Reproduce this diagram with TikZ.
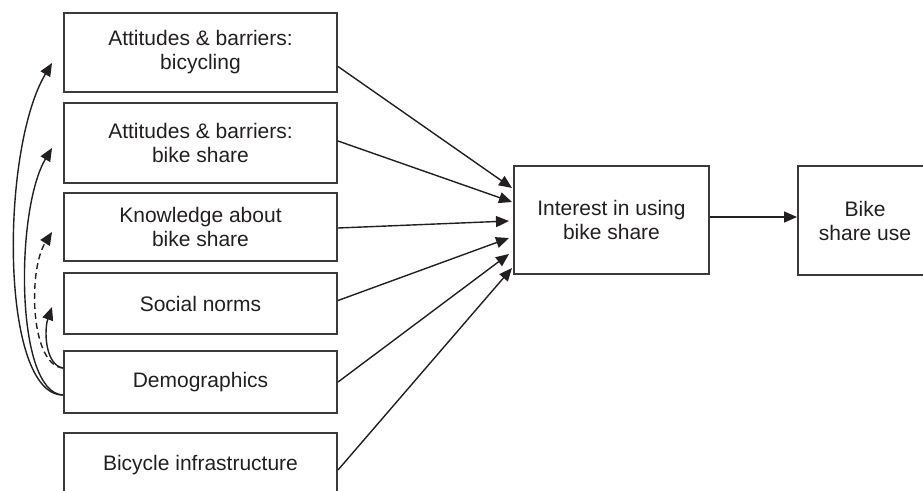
\documentclass[tikz,border=0pt]{standalone}
\usepackage{fontspec}
\setmainfont{Liberation Sans}
\usetikzlibrary{arrows.meta,calc}
\definecolor{ink}{HTML}{231F20}
\definecolor{boxline}{HTML}{3A3A3A}
\begin{document}
\begin{tikzpicture}[x=1pt,y=-1pt,
  box/.style={draw=boxline,line width=2pt,align=center,inner sep=0pt,
    font=\fontsize{21}{24}\selectfont,text=ink},
  arr/.style={draw=ink,line width=1.4pt,-{Triangle[length=13pt,width=11pt]}},
  darr/.style={arr,dash pattern=on 6pt off 4pt}]
\useasboundingbox (0,0) rectangle (923,490);
\clip (0,0) rectangle (923,490);
\node[box,minimum width=273pt,minimum height=79pt] (b1) at (200.5,52.5) {Attitudes \& barriers:\\bicycling};
\node[box,minimum width=273pt,minimum height=80pt] (b2) at (200.5,143) {Attitudes \& barriers:\\bike share};
\node[box,minimum width=273pt,minimum height=68pt] (b3) at (200.5,227) {Knowledge about\\bike share};
\node[box,minimum width=273pt,minimum height=61pt] (b4) at (200.5,303.5) {Social norms};
\node[box,minimum width=273pt,minimum height=62pt] (b5) at (200.5,382) {Demographics};
\node[box,minimum width=273pt,minimum height=64pt] (b6) at (200.5,465) {Bicycle infrastructure};
\node[box,minimum width=195pt,minimum height=108pt] (int) at (611.5,220) {Interest in using\\bike share};
\node[box,minimum width=134pt,minimum height=109pt] (use) at (865,220.5) {Bike\\share use};

\draw[arr] ($(b1.east)+(0,14)$) -- ($(int.west)+(-1,-32)$);
\draw[arr] ($(b2.east)+(0,-2)$) -- ($(int.west)+(-1,-18)$);
\draw[arr] ($(b3.east)+(0,1)$) -- ($(int.west)+(-4,1)$);
\draw[arr] ($(b4.east)+(0,-3)$) -- ($(int.west)+(-4,18)$);
\draw[arr] (b5.east) -- ($(int.west)+(-4,34)$);
\draw[arr] ($(b6.east)+(0,5)$) -- ($(int.west)+(-1,48)$);
\draw[arr] ($(int.east)+(0,-3)$) -- ($(use.west)+(0,-3.5)$);

\coordinate (d1) at ($(b5.west)+(0,13)$);
\coordinate (d2) at ($(b5.west)+(0,-14)$);
\draw[arr] (d1) .. controls (0,395) and (0,150) .. ($(b1.west)+(-11,10.5)$);
\draw[arr] (d1) .. controls (15,393) and (15,210) .. ($(b2.west)+(-11,5)$);
\draw[darr] (d2) .. controls (30,365) and (28,270) .. ($(b3.west)+(-11,5)$);
\draw[arr] (d2) .. controls (45,365) and (44,330) .. ($(b4.west)+(-11,3.5)$);
\end{tikzpicture}
\end{document}
